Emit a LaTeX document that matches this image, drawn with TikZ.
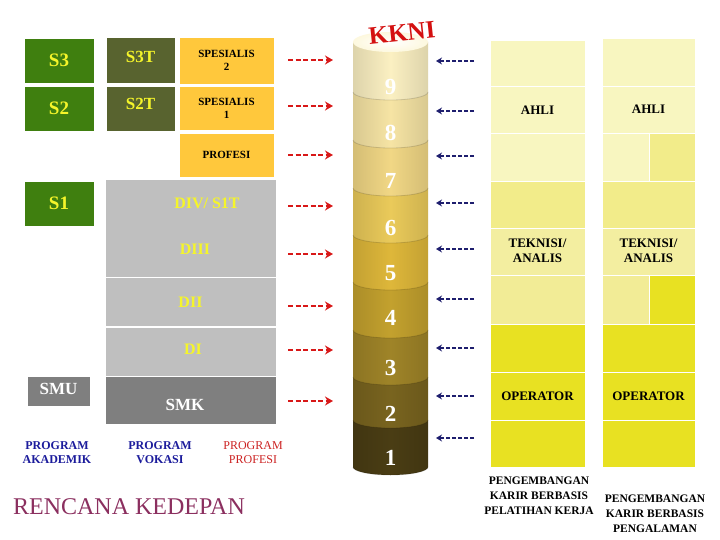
\documentclass[tikz,border=0pt]{standalone}
\usepackage{fontspec}
\setmainfont{Liberation Serif}
\usetikzlibrary{arrows.meta}
\definecolor{sgreen}{HTML}{3F7F0F}
\definecolor{solive}{HTML}{58632F}
\definecolor{sorange}{HTML}{FFC83C}
\definecolor{sgray}{HTML}{BFBFBF}
\definecolor{sdark}{HTML}{7F7F7F}
\definecolor{syel}{HTML}{F5F52A}
\definecolor{arrred}{HTML}{D81818}
\definecolor{navy}{HTML}{1E1E6E}
\definecolor{pblue}{HTML}{1C1C9C}
\definecolor{pred}{HTML}{CC2222}
\definecolor{maroon}{HTML}{8B2F5F}
\definecolor{kred}{HTML}{D41010}
\definecolor{cy9}{HTML}{FBF0C2}
\definecolor{cy8}{HTML}{F6E4A4}
\definecolor{cy7}{HTML}{F1D785}
\definecolor{cy6}{HTML}{EACA5A}
\definecolor{cy5}{HTML}{DEB73A}
\definecolor{cy4}{HTML}{C3A12E}
\definecolor{cy3}{HTML}{9F8428}
\definecolor{cy2}{HTML}{79641F}
\definecolor{cy1}{HTML}{4A3D14}
\definecolor{ctop}{HTML}{FDF8DE}
\definecolor{rpale}{HTML}{F8F6C0}
\definecolor{rmid}{HTML}{F2EC8A}
\definecolor{rlight}{HTML}{F3EEA0}
\definecolor{rsix}{HTML}{F2EC96}
\definecolor{rbright}{HTML}{E8E122}
\tikzset{
  box/.style={draw=white, line width=0.8pt, inner sep=0pt},
  lbl/.style={font=\bfseries\fontsize{19}{19}\selectfont, text=syel},
  sml/.style={font=\bfseries\fontsize{11}{13}\selectfont, align=center, text=black},
  dtxt/.style={font=\bfseries\fontsize{16}{16}\selectfont, text=syel},
  wtxt/.style={font=\bfseries\fontsize{17}{17}\selectfont, text=white},
  redarr/.style={draw=arrred, line width=2.8pt, dash pattern=on 5pt off 2.5pt, -{Stealth[length=8pt,width=9pt]}},
  bluearr/.style={draw=navy, line width=1.8pt, dash pattern=on 4pt off 2pt, -{Stealth[length=6pt,width=7pt]}},
  num/.style={font=\bfseries\fontsize{23}{23}\selectfont, text=white},
  cell/.style={draw=white, line width=0.8pt},
  ctxt/.style={font=\bfseries\fontsize{13}{15}\selectfont, align=center, text=black},
  prog/.style={font=\bfseries\fontsize{12}{14}\selectfont, align=center},
  peng/.style={font=\bfseries\fontsize{11.5}{15}\selectfont, align=center, text=black}
}
\begin{document}
\begin{tikzpicture}[x=1pt,y=-1pt]
\useasboundingbox (0,0) rectangle (720,540);
\fill[white] (0,0) rectangle (720,540);

% left academic boxes
\node[box, fill=sgreen, minimum width=70pt, minimum height=45pt, lbl] (s3) at (59,60.5) {S3};
\node[box, fill=sgreen, minimum width=70pt, minimum height=45pt, lbl] (s2) at (59,108.5) {S2};
\node[box, fill=sgreen, minimum width=70pt, minimum height=45pt, lbl] (s1) at (59,203.5) {S1};
\node[box, fill=solive, minimum width=69pt, minimum height=46pt] (s3t) at (140.5,60) {};
\node[lbl, font=\bfseries\fontsize{17}{17}\selectfont] (s3tt) at (140.5,57) {S3T};
\node[box, fill=solive, minimum width=69pt, minimum height=45pt] (s2t) at (140.5,108.5) {};
\node[lbl, font=\bfseries\fontsize{17}{17}\selectfont] (s2tt) at (140.5,104) {S2T};
\node[box, fill=sorange, minimum width=95pt, minimum height=47pt, sml] (sp2) at (226.5,60.5) {SPESIALIS\\2};
\node[box, fill=sorange, minimum width=95pt, minimum height=44pt, sml] (sp1) at (226.5,108) {SPESIALIS\\1};
\node[box, fill=sorange, minimum width=95pt, minimum height=44pt, sml] (prof) at (226.5,155) {PROFESI};

% vocational boxes
\node[box, fill=sgray, minimum width=171pt, minimum height=98pt] (div) at (190.5,228) {};
\node[dtxt] (divt) at (207,203) {DIV/ S1T};
\node[dtxt] (diiit) at (195,249) {DIII};
\node[box, fill=sgray, minimum width=171pt, minimum height=49pt, dtxt] (dii) at (190.5,302) {DII};
\node[box, fill=sgray, minimum width=171pt, minimum height=49pt, dtxt] (di) at (190.5,351.5) {};
\node[dtxt] (dit) at (193,349) {DI};
\node[box, fill=sdark, minimum width=171pt, minimum height=48pt] (smk) at (190.5,400) {};
\node[wtxt] (smkt) at (185,405) {SMK};
\node[box, fill=sdark, minimum width=63pt, minimum height=30pt] (smu) at (58.5,391) {};
\node[wtxt] (smut) at (58.5,389) {SMU};

% program labels
\node[prog, text=pblue] (pak) at (57,453) {PROGRAM\\AKADEMIK};
\node[prog, text=pblue] (pvo) at (160,453) {PROGRAM\\VOKASI};
\node[prog, font=\fontsize{12}{14}\selectfont, text=pred] (ppr) at (253,453) {PROGRAM\\PROFESI};
\node[font=\fontsize{24}{24}\selectfont, text=maroon] (ren) at (129,507) {RENCANA KEDEPAN};

% red arrows
\foreach \i/\y in {1/60,2/106,3/155,4/206,5/254,6/306,7/350,8/401}{
  \coordinate (rs\i) at (288,\y);
  \coordinate (re\i) at (333,\y);
  \draw[redarr] (rs\i) -- (re\i);
}
% blue arrows
\foreach \i/\y in {1/61,2/111,3/156,4/203,5/249,6/299,7/348,8/396,9/438}{
  \coordinate (bs\i) at (474,\y);
  \coordinate (be\i) at (436,\y);
  \draw[bluearr] (bs\i) -- (be\i);
}

% KKNI cylinder (bottom to top)
\foreach \c/\yt/\yb in {cy1/420/467,cy2/377/420,cy3/330/377,cy4/282/330,cy5/235/282,cy6/188/235,cy7/140/188,cy8/92/140,cy9/42/92}{
  \shade[left color=\c!88!black, right color=\c!88!black, middle color=\c]
    (353,\yt) -- (353,\yb) arc[start angle=180, end angle=360, x radius=37.5pt, y radius=8pt] -- (428,\yt) -- cycle;
  \draw[black, opacity=0.15, line width=0.8pt] (353,\yb) arc[start angle=180, end angle=360, x radius=37.5pt, y radius=8pt];
}
\shade[inner color=white, outer color=ctop] (390.5,42) ellipse[x radius=37.5pt, y radius=10pt];
\node[rotate=6, text=kred, font=\bfseries\fontsize{25}{25}\selectfont] (kkni) at (402,33) {KKNI};
\foreach \n/\y in {9/87,8/133,7/181,6/228,5/273,4/318,3/368,2/414,1/458}{
  \node[num] (n\n) at (390.5,\y) {\n};
}

% right columns
\foreach \r/\ya/\yb/\c in {1/40/86/rpale,2/86/133/rpale,3/133/181/rpale,4/181/228/rmid,5/228/275/rlight,6/275/324/rsix,7/324/372/rbright,8/372/420/rbright,9/420/467/rbright}{
  \fill[cell, fill=\c] (490,\ya) rectangle (585,\yb);
}
\foreach \r/\ya/\yb/\c in {1/38/86/rpale,2/86/133/rpale,4/181/228/rmid,5/228/275/rlight,7/324/372/rbright,8/372/420/rbright,9/420/467/rbright}{
  \fill[cell, fill=\c] (602,\ya) rectangle (695,\yb);
}
\fill[cell, fill=rpale] (602,133) rectangle (649,181);
\fill[cell, fill=rmid] (649,133) rectangle (695,181);
\fill[cell, fill=rsix] (602,275) rectangle (649,324);
\fill[cell, fill=rbright] (649,275) rectangle (695,324);

\node[ctxt] (ahli1) at (537.5,110) {AHLI};
\node[ctxt] (ahli2) at (648.5,109) {AHLI};
\node[ctxt] (tek1) at (537.5,251) {TEKNISI/\\ANALIS};
\node[ctxt] (tek2) at (648.5,251) {TEKNISI/\\ANALIS};
\node[ctxt] (op1) at (537.5,396) {OPERATOR};
\node[ctxt] (op2) at (648.5,396) {OPERATOR};

\node[peng] (pg1) at (539,495.5) {PENGEMBANGAN\\KARIR BERBASIS\\PELATIHAN KERJA};
\node[peng] (pg2) at (655,513.5) {PENGEMBANGAN\\KARIR BERBASIS\\PENGALAMAN};
\end{tikzpicture}
\end{document}
